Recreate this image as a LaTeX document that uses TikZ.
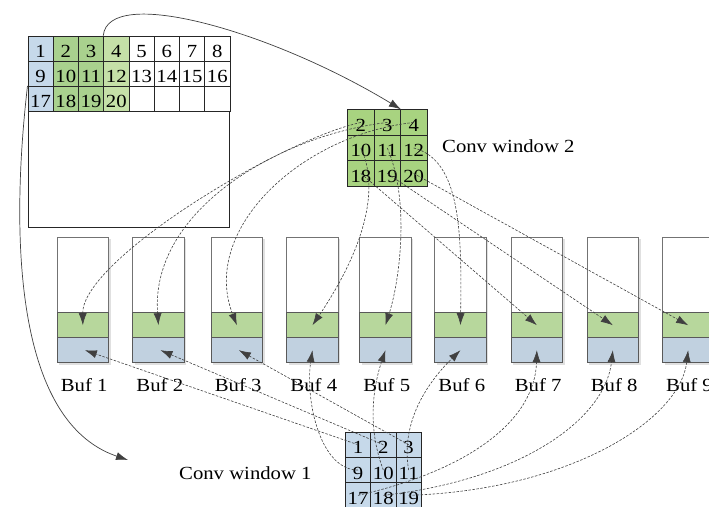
\documentclass[tikz,border=0pt]{standalone}
\usepackage{fontspec}
\setmainfont{Liberation Serif}[FakeStretch=1.12]
\usetikzlibrary{arrows.meta}

\definecolor{cellblue}{HTML}{C6D9EA}
\definecolor{cellgreen}{HTML}{A9D18E}
\definecolor{celllight}{HTML}{C5E0A8}
\definecolor{wingreen}{HTML}{A8D380}
\definecolor{bufgreen}{HTML}{B7D79C}
\definecolor{bufblue}{HTML}{C1D1E0}
\definecolor{edge}{HTML}{404040}

\begin{document}
\begin{tikzpicture}[x=1pt,y=-1pt,
  font=\fontsize{18.5}{20}\selectfont,
  cell/.style={draw=black!85, line width=0.8pt, inner sep=0pt, anchor=north west,
               text height=18pt, text depth=0pt},
  gcell/.style={cell, minimum width=25.25pt, minimum height=25.1pt},
  wcell2/.style={cell, minimum width=26.4pt, minimum height=25.5pt, fill=wingreen},
  wcell1/.style={cell, minimum width=25.3pt, minimum height=25.3pt, fill=cellblue},
  bufpart/.style={draw=black!65, line width=0.8pt, inner sep=0pt, anchor=north west,
                  minimum width=51.5pt},
  solidarrow/.style={draw=edge, line width=0.7pt, -{Latex[length=12pt,width=8pt]}},
  dasharrow/.style={draw=edge, line width=0.6pt, dash pattern=on 2.5pt off 1.5pt,
                    -{Latex[length=12pt,width=8pt]}},
]
\useasboundingbox (0,0) rectangle (709,506);
\clip (0,0) rectangle (709,506);

% input feature map
\node[draw=black!85, line width=0.8pt, inner sep=0pt, anchor=north west,
      minimum width=201.8pt, minimum height=191.3pt] (fmap) at (27.5,35.7) {};
\foreach \r in {0,1,2}{
  \foreach \c/\cl in {1/cellblue,2/cellgreen,3/cellgreen,4/celllight,5/white,6/white,7/white,8/white}{
    \pgfmathtruncatemacro\n{\r*8+\c}
    \node[gcell, fill=\cl] (g-\n) at ({27.5+(\c-1)*25.25},{35.7+\r*25.1}) {\ifnum\n<21 \n\fi};
  }
}

% convolution window 2
\foreach \k/\v in {1/2,2/3,3/4,4/10,5/11,6/12,7/18,8/19,9/20}{
  \pgfmathtruncatemacro\cc{mod(\k-1,3)}
  \pgfmathtruncatemacro\rr{div(\k-1,3)}
  \node[wcell2] (w2-\k) at ({347.3+\cc*26.4},{109.3+\rr*25.5}) {\v};
}
\node[anchor=base west, inner sep=0pt] (lab2) at (442,152) {Conv window 2};

% convolution window 1
\foreach \k/\v in {1/1,2/2,3/3,4/9,5/10,6/11,7/17,8/18,9/19}{
  \pgfmathtruncatemacro\cc{mod(\k-1,3)}
  \pgfmathtruncatemacro\rr{div(\k-1,3)}
  \node[wcell1] (w1-\k) at ({345+\cc*25.3},{431.7+\rr*25.3}) {\v};
}
\node[anchor=base west, inner sep=0pt] (lab1) at (179,479) {Conv window 1};

% line buffers
\foreach \k/\x in {1/56.7,2/132.3,3/210.7,4/286.3,5/359.3,6/434.3,7/510.7,8/586.7,9/662}{
  \fill[black!12] ({\x+2.5},239.2) rectangle ({\x+54},364.8);
  \node[bufpart, fill=white, draw=black!55, minimum height=75.6pt] (t\k) at (\x,236.7) {};
  \node[bufpart, fill=bufgreen, minimum height=25pt] (bg\k) at (\x,312.3) {};
  \node[bufpart, fill=bufblue, minimum height=25pt] (bb\k) at (\x,337.3) {};
  \node[anchor=base, inner sep=0pt] (bl\k) at ({\x+27.5},391.5) {Buf \k};
}

% window moves
\coordinate (w1pos) at (128,460);
\draw[solidarrow] (g-4.north west) .. controls (108,-15) and (270,30) .. (w2-2.north east);
\draw[solidarrow] (g-17.north west) .. controls (12,220) and (10,420) .. (w1pos);

% window 2 -> green slots
\draw[dasharrow] (w2-1.center) .. controls (280,140) and (82,260) .. (bg1.center);
\draw[dasharrow] (w2-2.center) .. controls (280,135) and (150,210) .. (bg2.center);
\draw[dasharrow] (w2-3.center) .. controls (300,135) and (200,230) .. (bg3.center);
\draw[dasharrow] (w2-4.center) .. controls (385,200) and (350,270) .. (bg4.center);
\draw[dasharrow] (w2-5.center) .. controls (410,200) and (400,280) .. (bg5.center);
\draw[dasharrow] (w2-6.center) .. controls (460,160) and (462,230) .. (bg6.center);
\draw[dasharrow] (w2-7.center) -- (bg7.center);
\draw[dasharrow] (w2-8.center) -- (bg8.center);
\draw[dasharrow] (w2-9.center) -- (bg9.center);

% window 1 -> blue slots
\draw[dasharrow] (w1-1.center) -- ([xshift=2pt]bb1.center);
\draw[dasharrow] (w1-2.center) -- ([xshift=2pt]bb2.center);
\draw[dasharrow] (w1-3.center) -- ([xshift=2pt]bb3.center);
\draw[dasharrow] (w1-4.center) .. controls (320,470) and (305,400) .. (bb4.center);
\draw[dasharrow] (w1-5.center) .. controls (368,430) and (372,390) .. (bb5.center);
\draw[dasharrow] (w1-6.center) .. controls (400,420) and (430,380) .. (bb6.center);
\draw[dasharrow] (w1-7.center) .. controls (470,470) and (535,420) .. (bb7.center);
\draw[dasharrow] (w1-8.center) .. controls (520,480) and (605,420) .. (bb8.center);
\draw[dasharrow] (w1-9.center) .. controls (570,490) and (680,420) .. (bb9.center);
\end{tikzpicture}
\end{document}
